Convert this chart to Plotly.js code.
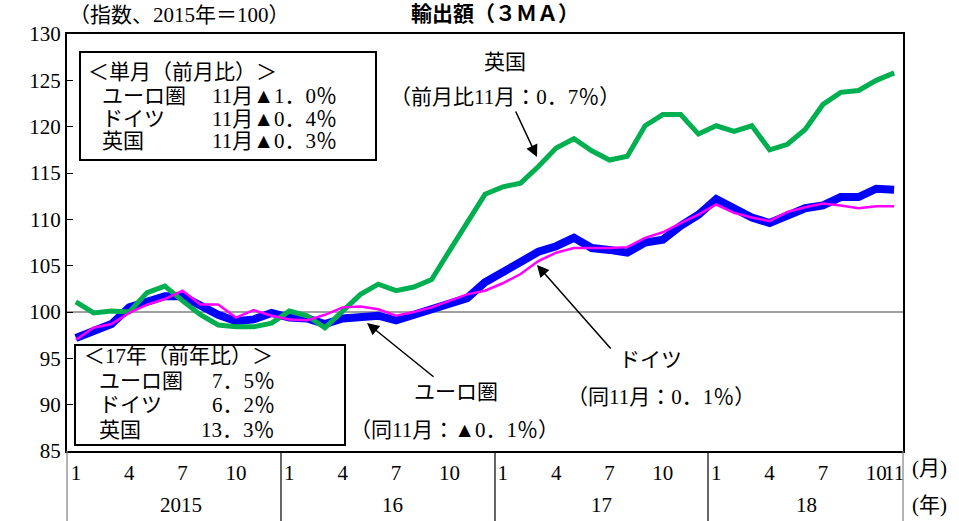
<!DOCTYPE html>
<html><head><meta charset="utf-8">
<script src="https://cdn.plot.ly/plotly-3.0.1.min.js"></script>
<style>html,body{margin:0;padding:0;background:#fff;}#chart{width:959px;height:521px;}</style>
</head><body><div id="chart"></div>
<script>
// Months Jan 2015 .. Nov 2018 (47 points)
const months = [];
const years = [2015, 2016, 2017, 2018];
years.forEach(y => { for (let m = 1; m <= 12; m++) { if (y === 2018 && m > 11) break; months.push(y + '-' + m); } });
const idx = months.map((_, i) => i);

const euroArea = [97.2,98.0,98.7,100.5,101.2,101.7,101.7,100.6,99.7,99.0,99.2,99.9,
                  99.4,99.3,98.7,99.3,99.4,99.6,99.1,99.7,100.3,100.9,101.5,103.2,
                  104.4,105.4,106.5,107.1,108.0,106.9,106.7,106.4,107.5,107.8,109.3,110.5,
                  112.2,111.3,110.2,109.6,110.5,111.2,111.5,112.4,112.4,113.3,113.2];
const germany = [97.0,98.3,98.7,99.9,100.8,101.4,102.3,100.8,100.8,99.4,100.2,99.6,
                 99.2,99.1,99.7,100.5,100.6,100.3,99.6,100.0,100.5,101.2,101.9,102.3,
                 103.1,104.1,105.5,106.4,106.9,106.9,106.9,107.0,108.0,108.6,109.6,110.5,
                 111.6,110.7,110.2,109.8,110.8,111.3,111.7,111.5,111.2,111.4,111.4];
const uk = [101.1,99.9,100.1,100.0,102.1,102.8,101.2,99.7,98.6,98.4,98.4,98.8,
            100.1,99.6,98.3,100.1,101.9,103.0,102.3,102.7,103.5,106.6,109.6,112.7,
            113.5,113.9,115.7,117.7,118.7,117.4,116.4,116.8,120.1,121.3,121.3,119.2,
            120.1,119.5,120.1,117.5,118.1,119.7,122.4,123.7,123.9,125.0,125.8];

const monthTickIdx = [0,3,6,9,12,15,18,21,24,27,30,33,36,39,42,45,46];
const monthTickText = ['1','4','7','10','1','4','7','10','1','4','7','10','1','4','7','10','11'];
const yearLabels = ['2015','16','17','18'];

const boxMonthlyTitle = '＜単月（前月比）＞';
const boxMonthlyNames = ['ユーロ圏','ドイツ','英国'];
const boxMonthlyVals = ['11月▲1．0％','11月▲0．4％','11月▲0．3％'];
const boxYearTitle = '＜17年（前年比）＞';
const boxYearNames = ['ユーロ圏','ドイツ','英国'];
const boxYearVals = ['7．5％','6．2％','13．3％'];

const FONT = 'Liberation Serif, "Noto Sans CJK JP", serif';
const FS = 21;

const traces = [
  {x: idx, y: euroArea, type:'scatter', mode:'lines', line:{color:'#0000FF', width:8}, name:'ユーロ圏'},
  {x: idx, y: uk, type:'scatter', mode:'lines', line:{color:'#00B050', width:5}, name:'英国'},
  {x: idx, y: germany, type:'scatter', mode:'lines', line:{color:'#FF00FF', width:2.5}, name:'ドイツ'}
];

const L = 67, T = 34, W = 836, H = 417;
const px = x => (x - L) / W;
const py = y => 1 - (y - T) / H;

const ann = [];
const txt = (text, x, y, xa, size, extra) => ann.push(Object.assign({text, x, y, xref:'paper', yref:'paper', xanchor:xa||'left', yanchor:'middle', showarrow:false, font:{family:FONT, size:size||FS, color:'#000'}}, extra||{}));

txt('輸出額（３ＭＡ）', px(495), py(14), 'center', FS, {font:{family:FONT, size:FS, color:'#000', weight:'bold'}});
txt('（指数、2015年＝100）', px(292), py(15), 'right', FS);
// year labels
const yearCenters = [181, 392, 601, 806];
yearLabels.forEach((t, i) => txt(t, px(yearCenters[i]), py(505), 'center', FS));
txt('(月)', px(910), py(468), 'left', FS);
txt('(年)', px(910), py(505), 'left', FS);

// boxes text
txt(boxMonthlyTitle, px(86), py(72), 'left', FS);
boxMonthlyNames.forEach((n, i) => { const yy = [96,119,141][i]; txt(n, px(100), py(yy), 'left', FS); txt(boxMonthlyVals[i], px(210), py(yy), 'left', FS); });
txt(boxYearTitle, px(82), py(356), 'left', FS);
boxYearNames.forEach((n, i) => { const yy = [381,405,430][i]; txt(n, px(97), py(yy), 'left', FS); txt(boxYearVals[i], px(277), py(yy), 'right', FS); });

// series labels
txt('英国', px(505), py(62), 'center', FS);
txt('（前月比11月：0．7％）', px(505), py(97), 'center', FS);
txt('ドイツ', px(650), py(360), 'center', FS);
txt('（同11月：0．1％）', px(661), py(397), 'center', FS);
txt('ユーロ圏', px(456), py(392), 'center', FS);
txt('（同11月：▲0．1％）', px(454), py(430), 'center', FS);

// arrows
const arrow = (hx, hy, tx, ty) => ann.push({x: px(hx), y: py(hy), xref:'paper', yref:'paper', ax: tx - hx, ay: ty - hy, axref:'pixel', ayref:'pixel', text:'', showarrow:true, arrowhead:2, arrowsize:1.6, arrowwidth:1.5, arrowcolor:'#000'});
arrow(537, 157, 515, 110);
arrow(537, 265, 612, 350);
arrow(367, 323, 435, 378);

const shapes = [
  {type:'line', xref:'paper', yref:'y', x0:0, x1:1, y0:100, y1:100, line:{color:'#808080', width:1.5}, layer:'below'},
  {type:'rect', xref:'paper', yref:'paper', x0:px(80), x1:px(376), y0:py(160), y1:py(52), line:{color:'#000', width:2}, fillcolor:'#fff', layer:'above'},
  {type:'rect', xref:'paper', yref:'paper', x0:px(75), x1:px(345), y0:py(445), y1:py(345), line:{color:'#000', width:2}, fillcolor:'#fff', layer:'above'}
];
// vertical separators below axis
[67, 281, 495, 708, 903].forEach((xx, i) => shapes.push({type:'line', xref:'paper', yref:'paper', x0:px(xx), x1:px(xx), y0:py(451), y1:py(521), line:{color:(i===0||i===4)?'#808080':'#000', width:1.2}}));

const layout = {
  width:959, height:521,
  margin:{l:L, r:959-L-W, t:T, b:521-T-H},
  paper_bgcolor:'#fff', plot_bgcolor:'#fff',
  showlegend:false,
  xaxis:{range:[-0.5, 46.5], tickvals: monthTickIdx, ticktext: monthTickText, tickangle:0, showgrid:false, zeroline:false,
         showline:true, mirror:true, linecolor:'#000', linewidth:2, ticks:'', ticklabelstandoff:2, tickfont:{family:FONT, size:FS, color:'#000'}},
  yaxis:{range:[85,130], dtick:5, tick0:85, showgrid:false, zeroline:false, showline:true, mirror:true,
         linecolor:'#000', linewidth:2, ticks:'inside', ticklen:6, tickcolor:'#000', tickfont:{family:FONT, size:FS, color:'#000'}},
  annotations: ann,
  shapes: shapes
};
Plotly.newPlot('chart', traces, layout, {displayModeBar:false, staticPlot:true});
</script></body></html>
